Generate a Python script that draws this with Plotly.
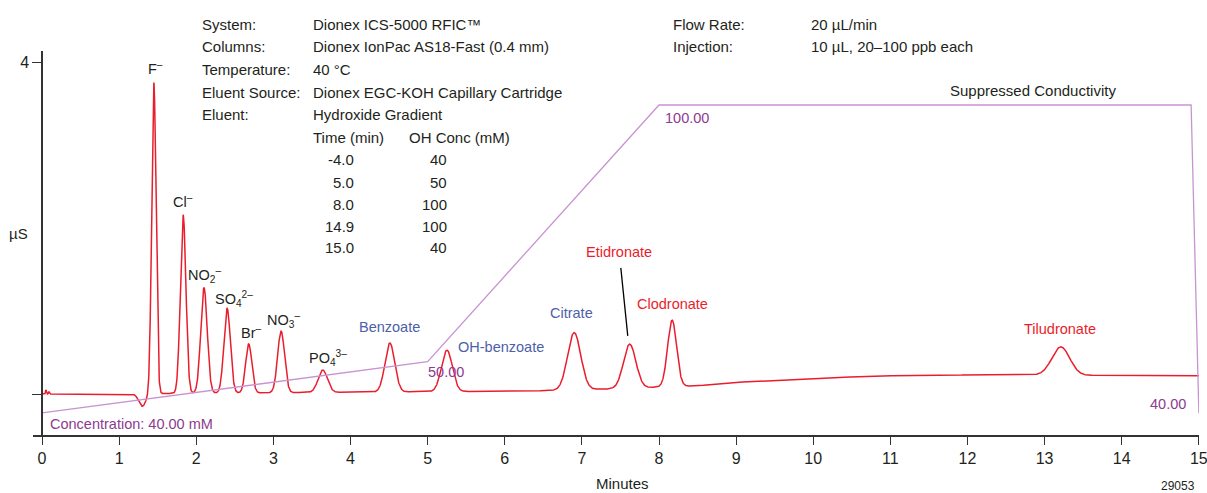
import numpy as np
import plotly.graph_objects as go

# ---------------- data ----------------
peak_names = ["F", "Cl", "NO2", "SO4", "Br", "NO3", "PO4", "Benzoate", "OH-benzoate",
              "Citrate", "Etidronate", "Clodronate", "Tiludronate"]
peak_rt = [1.45, 1.83, 2.10, 2.40, 2.68, 3.10, 3.64, 4.51, 5.25, 6.90, 7.62, 8.17, 13.21]
peak_height = [3.75, 2.15, 1.27, 1.02, 0.59, 0.74, 0.27, 0.59, 0.50, 0.69, 0.53, 0.80, 0.34]
peak_sigma = [0.028, 0.036, 0.042, 0.042, 0.040, 0.045, 0.060, 0.063, 0.070, 0.085, 0.080, 0.058, 0.115]

# system dip and injection noise
dip_rt = [0.05, 0.09, 1.30]
dip_height = [0.05, 0.03, -0.15]
dip_sigma = [0.006, 0.006, 0.045]

baseline_t = [0.0, 1.1, 2.0, 5.5, 6.5, 7.3, 8.5, 9.0, 10.0, 11.0, 12.0, 13.0, 14.0, 15.0]
baseline_v = [0.0, 0.0, 0.01, 0.03, 0.04, 0.06, 0.10, 0.14, 0.19, 0.22, 0.23, 0.23, 0.22, 0.22]

grad_time = [0.0, 5.0, 8.0, 14.9, 15.0]
grad_conc = [40, 50, 100, 100, 40]

x_ticks = list(range(0, 16))
y_ticks = [0, 4]
y_ticktext = ["", "4"]

# ---------------- build chromatogram ----------------
t = np.linspace(0, 15, 6001)
y = np.interp(t, baseline_t, baseline_v)
for rt, h, s in zip(peak_rt + dip_rt, peak_height + dip_height, peak_sigma + dip_sigma):
    y = y + h * np.exp(-0.5 * ((t - rt) / s) ** 2)

# ---------------- styling / geometry ----------------
FONT = "Liberation Sans, Arial, sans-serif"
RED = "#ea1d2c"
PURPLE_LINE = "#c993d2"
PURPLE_TXT = "#8c3b8f"
BLUE = "#4d5fa9"
BLACK = "#231f20"
HS = 15     # header font size
LS = 14.5   # label font size

W, H = 1207, 493
L, R, T, B = 33, 8, 51, 58
PW, PH = W - L - R, H - T - B


def px(xp):
    return (xp - L) / PW


def py(yp):
    return (H - B - yp) / PH


fig = go.Figure()
fig.add_trace(go.Scatter(x=grad_time, y=grad_conc, mode="lines", yaxis="y2",
                         line=dict(color=PURPLE_LINE, width=1.3), hoverinfo="skip", showlegend=False))
fig.add_trace(go.Scatter(x=t, y=y, mode="lines",
                         line=dict(color=RED, width=1.5), showlegend=False))

ann = []

def txt(text, x, y, xref="paper", yref="paper", color=BLACK, size=HS, xanchor="left", yanchor="middle"):
    ann.append(dict(text=text, x=x, y=y, xref=xref, yref=yref, showarrow=False,
                    font=dict(family=FONT, size=size, color=color),
                    xanchor=xanchor, yanchor=yanchor))

# header block
rows1 = ["System:", "Columns:", "Temperature:", "Eluent Source:", "Eluent:"]
rows2 = ["Dionex ICS-5000 RFIC\u2122", "Dionex IonPac AS18-Fast (0.4 mm)", "40 \u00b0C",
         "Dionex EGC-KOH Capillary Cartridge", "Hydroxide Gradient"]
row_y = [24, 47, 70, 92, 114]
for a, b, yy in zip(rows1, rows2, row_y):
    txt(a, px(200), py(yy))
    txt(b, px(311), py(yy))
txt("Time (min)", px(311), py(137))
txt("OH Conc (mM)", px(407), py(137))
tab_time = ["-4.0", "5.0", "8.0", "14.9", "15.0"]
tab_conc = ["40", "50", "100", "100", "40"]
tab_y = [159, 182, 204, 226, 248]
for a, b, yy in zip(tab_time, tab_conc, tab_y):
    txt(a, px(356), py(yy), xanchor="right")
    txt(b, px(449), py(yy), xanchor="right")
txt("Flow Rate:", px(671), py(24))
txt("20 \u00b5L/min", px(809), py(24))
txt("Injection:", px(671), py(47))
txt("10 \u00b5L, 20\u2013100 ppb each", px(809), py(47))
txt("Suppressed Conductivity", px(1118), py(90), xanchor="right")
txt("29053", px(1197), py(486), size=12, xanchor="right")
txt("Minutes", px(622), py(483), xanchor="center")
txt("\u00b5S", px(18), py(233), xanchor="center")

# peak labels (data coordinates)
peak_labels = [
    ("F<sup>\u2013</sup>", 1.465, 3.93, BLACK),
    ("Cl<sup>\u2013</sup>", 1.83, 2.33, BLACK),
    ("NO<sub>2</sub><sup>\u2013</sup>", 2.11, 1.43, BLACK),
    ("SO<sub>4</sub><sup>2\u2013</sup>", 2.49, 1.14, BLACK),
    ("Br<sup>\u2013</sup>", 2.71, 0.75, BLACK),
    ("NO<sub>3</sub><sup>\u2013</sup>", 3.13, 0.89, BLACK),
    ("PO<sub>4</sub><sup>3\u2013</sup>", 3.71, 0.43, BLACK),
    ("Benzoate", 4.51, 0.81, BLUE),
    ("OH-benzoate", 5.95, 0.57, BLUE),
    ("Citrate", 6.86, 0.98, BLUE),
    ("Etidronate", 7.48, 1.71, RED),
    ("Clodronate", 8.17, 1.08, RED),
    ("Tiludronate", 13.2, 0.78, RED),
]
for text, xx, yy, c in peak_labels:
    txt(text, xx, yy, xref="x", yref="y", color=c, size=LS, xanchor="center")

# gradient labels
txt("Concentration: 40.00 mM", 0.08, 37.9, xref="x", yref="y2", color=PURPLE_TXT, size=LS)
txt("50.00", 4.98, 48.0, xref="x", yref="y2", color=PURPLE_TXT, size=LS)
txt("100.00", 8.05, 97.5, xref="x", yref="y2", color=PURPLE_TXT, size=LS)
txt("40.00", 14.86, 41.8, xref="x", yref="y2", color=PURPLE_TXT, size=LS, xanchor="right")

fig.update_layout(
    width=W, height=H,
    margin=dict(l=L, r=R, t=T, b=B, autoexpand=False),
    paper_bgcolor="white", plot_bgcolor="white",
    font=dict(family=FONT, size=HS, color=BLACK),
    annotations=ann,
    shapes=[dict(type="line", xref="x", yref="y", x0=7.505, y0=1.52, x1=7.595, y1=0.70,
                 line=dict(color="black", width=1.3))],
    xaxis=dict(range=[-0.117, 15.002], tickvals=x_ticks, ticktext=[str(v) for v in x_ticks],
               showgrid=False, zeroline=False, showline=True, linecolor="#333", linewidth=1.5,
               ticks="outside", ticklen=8, tickcolor="#333", tickwidth=1.2,
               ticklabeloverflow="allow", automargin=False,
               tickfont=dict(family=FONT, size=16, color=BLACK)),
    yaxis=dict(range=[-0.494, 4.133], tickvals=y_ticks, ticktext=y_ticktext,
               anchor="free", position=(42 - L) / PW, automargin=False,
               showgrid=False, zeroline=False, showline=True, linecolor="#333", linewidth=1.5,
               ticks="outside", ticklen=9, tickcolor="#333", tickwidth=1.2,
               tickfont=dict(family=FONT, size=16, color=BLACK)),
    yaxis2=dict(range=[35.71, 110.52], overlaying="y", visible=False),
)

fig.write_html("out.html", config={"displayModeBar": False},
               post_script="document.body.style.margin='0px';")
